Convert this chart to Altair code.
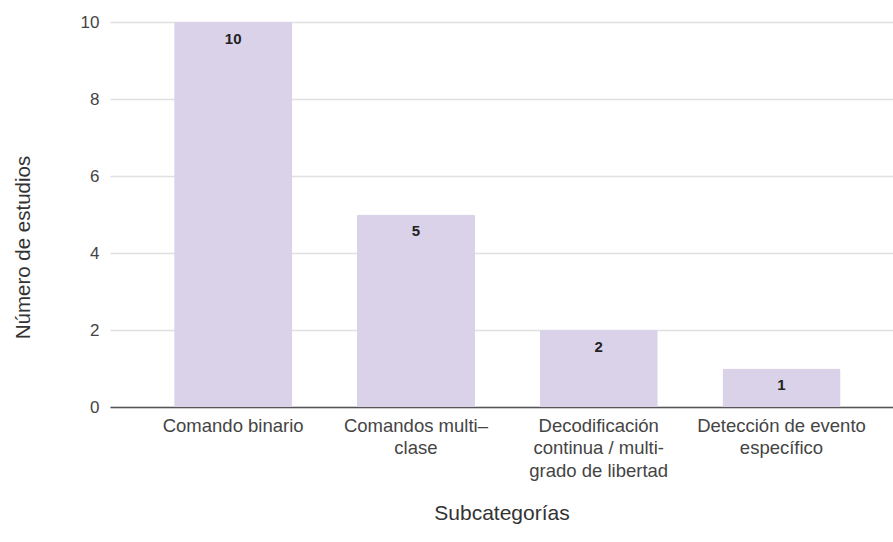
import altair as alt
import pandas as pd

categories = [
    "Comando binario",
    "Comandos multi–\nclase",
    "Decodificación\ncontinua / multi-\ngrado de libertad",
    "Detección de evento\nespecífico",
]
values = [10, 5, 2, 1]

df = pd.DataFrame({"cat": categories, "val": values})

FONT = "Liberation Sans"

x = alt.X(
    "cat:N",
    sort=None,
    scale=alt.Scale(paddingInner=0.354, paddingOuter=0.319, align=0.55),
    axis=alt.Axis(
        title="Subcategorías",
        labelExpr="split(datum.label, '\\n')",
        labelAngle=0,
        labelFont=FONT,
        labelFontSize=18.5,
        labelColor="#444444",
        labelLineHeight=22.5,
        labelPadding=9,
        labelBaseline="top",
        ticks=False,
        domain=True,
        domainColor="#555555",
        domainWidth=1.5,
        titleFont=FONT,
        titleFontSize=21,
        titleFontWeight="normal",
        titleColor="#333333",
        titleBaseline="middle",
        titleY=106,
    ),
)

y = alt.Y(
    "val:Q",
    scale=alt.Scale(domain=[0, 10]),
    axis=alt.Axis(
        title="Número de estudios",
        values=[0, 2, 4, 6, 8, 10],
        grid=True,
        gridColor="#e0e0e0",
        gridWidth=1.5,
        ticks=False,
        domain=False,
        labelFont=FONT,
        labelFontSize=17,
        labelColor="#444444",
        labelPadding=11,
        titleFont=FONT,
        titleFontSize=20.5,
        titleFontWeight="normal",
        titleColor="#333333",
        titleBaseline="middle",
        titleAngle=-90,
        titleX=-87,
        titleY=225,
    ),
)

bars = alt.Chart(df).mark_bar(
    color="#d9d2e9", cornerRadiusTopLeft=2, cornerRadiusTopRight=2
).encode(x=x, y=y)

labels = alt.Chart(df).mark_text(
    dy=16.5, baseline="middle", font=FONT, fontSize=15, fontWeight="bold", color="#222222"
).encode(x=alt.X("cat:N", sort=None), y=alt.Y("val:Q"), text="val:Q")

chart = (
    alt.layer(bars, labels)
    .properties(
        width=783,
        height=385,
        padding={"left": 110, "top": 22, "right": 0, "bottom": 135},
        autosize=alt.AutoSizeParams(type="none"),
        background="white",
    )
    .configure_view(stroke=None)
)

chart.save("out.html", embed_options={"renderer": "svg", "actions": False})
